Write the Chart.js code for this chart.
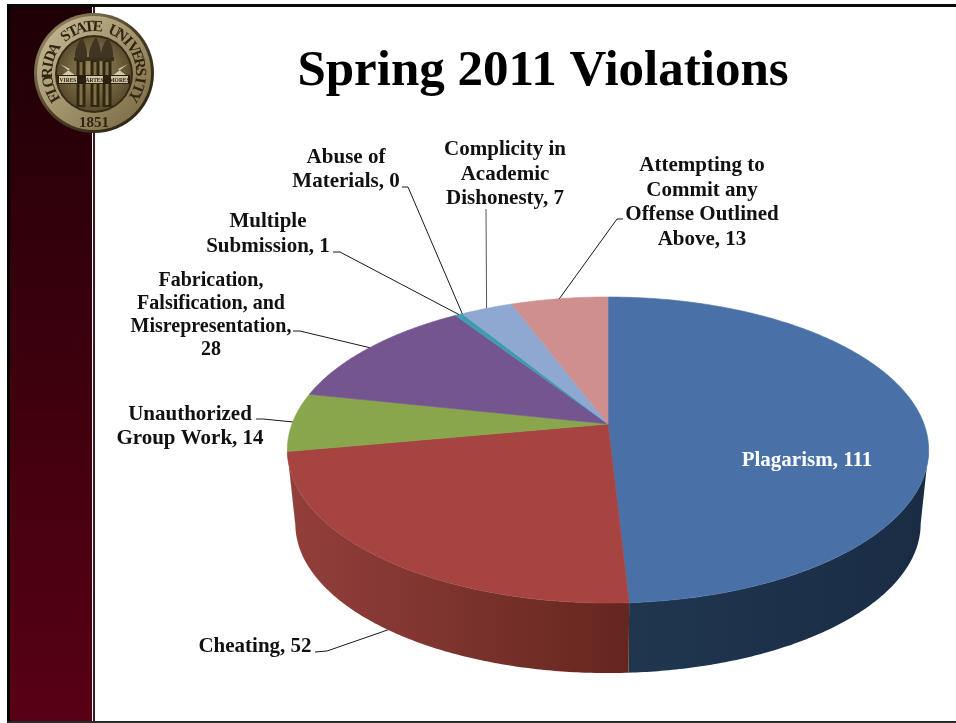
<!DOCTYPE html>
<html>
<head>
<meta charset="utf-8">
<title>Spring 2011 Violations</title>
<script src="https://cdn.jsdelivr.net/npm/chart.js@4"></script>
<style>
  html, body { margin: 0; padding: 0; background: #fff; }
  canvas { display: block; }
</style>
</head>
<body>
<canvas id="pie" width="956" height="723"></canvas>
<script>
var categories = ["Plagarism", "Cheating", "Unauthorized Group Work", "Fabrication, Falsification, and Misrepresentation", "Multiple Submission", "Abuse of Materials", "Complicity in Academic Dishonesty", "Attempting to Commit any Offense Outlined Above"];
var values = [111, 52, 14, 28, 1, 0, 7, 13];
var sliceColors = ["#4A71A7", "#A54441", "#8AA64D", "#745590", "#3E9BB0", "#3E9BB0", "#8FA8D2", "#CF8F8E"];

// # gets replaced with the value of the slice
var labelLines = [
    ["Plagarism, #"],
    ["Cheating, #"],
    ["Unauthorized", "Group Work, #"],
    ["Fabrication,", "Falsification, and", "Misrepresentation,", "#"],
    ["Multiple", "Submission, #"],
    ["Abuse of", "Materials, #"],
    ["Complicity in", "Academic", "Dishonesty, #"],
    ["Attempting to", "Commit any", "Offense Outlined", "Above, #"]
];
var titleText = "Spring 2011 Violations";

// center x and first baseline of each label, then the line gap and font size
var labelPos = [[807, 466, 0, 21], [255, 652, 0, 21], [190, 420, 24, 21], [211, 286, 23, 20], [268, 227, 25, 21], [346, 163, 24, 21], [505, 155, 24.5, 21], [702, 171, 24.7, 21]];
// leader line: points from the text to the elbow, null when the label sits on the slice
var leaderStart = [null, [[315, 652], [327, 651]], [[256, 419], [263, 419]], [[293, 331], [300, 331]], [[333, 252], [340, 252]], [[402, 187], [408, 187]], [[486, 209]], [[623, 219], [617, 219]]];

// the tilted disc, a perspective view of the unit circle
var CX = 608, CY = 424, RX = 316, RY = 148.6, PERSP = 0.17;
var DEPTH = 74.5, BOTTOM_SCALE = 0.975;

function project(angle, bottom) {
    var u = Math.cos(angle), v = Math.sin(angle);
    var w = 1 - PERSP * v;
    var s = bottom ? BOTTOM_SCALE : 1;
    return [CX + s * RX * u / w, CY + (bottom ? DEPTH : 0) + s * RY * v / w];
}

function tracePoints(ctx, a0, a1, bottom) {
    var steps = Math.max(1, Math.ceil(Math.abs(a1 - a0) / 0.01));
    for (var i = 0; i <= steps; i++) {
        var p = project(a0 + (a1 - a0) * i / steps, bottom);
        ctx.lineTo(p[0], p[1]);
    }
}

// [left, right] colours of the outer wall
var wallColors = [["#20364F", "#192C44"], ["#933F3C", "#65261F"], ["#6B7F3A", "#6B7F3A"]];

var pie3d = {
    id: "pie3d",
    beforeDatasetDraw: function (chart, args) {
        var ctx = chart.ctx;
        var arcs = args.meta.data;
        var front0 = Math.asin(PERSP), front1 = Math.PI - front0;

        // walls first, only the part that faces the viewer
        arcs.forEach(function (arc, i) {
            var a0 = Math.max(arc.startAngle, front0), a1 = Math.min(arc.endAngle, front1);
            if (a1 <= a0 || !wallColors[i]) return;
            var right = project(a0, false)[0], left = project(a1, false)[0];
            var grad = ctx.createLinearGradient(left, 0, right, 0);
            grad.addColorStop(0, wallColors[i][0]);
            grad.addColorStop(1, wallColors[i][1]);
            ctx.beginPath();
            tracePoints(ctx, a0, a1, false);
            tracePoints(ctx, a1, a0, true);
            ctx.closePath();
            ctx.fillStyle = grad;
            ctx.fill();
        });

        // top faces
        arcs.forEach(function (arc, i) {
            if (arc.endAngle <= arc.startAngle) return;
            ctx.beginPath();
            ctx.moveTo(CX, CY);
            tracePoints(ctx, arc.startAngle, arc.endAngle, false);
            ctx.closePath();
            ctx.fillStyle = sliceColors[i];
            ctx.strokeStyle = sliceColors[i];
            ctx.lineWidth = 0.6;
            ctx.fill();
            ctx.stroke();
        });
        return false;
    },
    afterDatasetsDraw: function (chart) {
        var ctx = chart.ctx;
        var arcs = chart.getDatasetMeta(0).data;

        arcs.forEach(function (arc, i) {
            var lines = leaderStart[i];
            if (lines) {
                // Cheating points at the wall, the others at the rim
                var end = project((arc.startAngle + arc.endAngle) / 2, i === 1);
                ctx.beginPath();
                ctx.moveTo(lines[0][0], lines[0][1]);
                for (var k = 1; k < lines.length; k++) ctx.lineTo(lines[k][0], lines[k][1]);
                ctx.lineTo(end[0], end[1]);
                ctx.strokeStyle = i === 6 ? "#555" : "#1a1a1a";
                ctx.lineWidth = 1;
                ctx.stroke();
            }
        });

        ctx.textAlign = "center";
        ctx.textBaseline = "alphabetic";
        labelLines.forEach(function (rows, i) {
            ctx.font = "bold " + labelPos[i][3] + "px 'Liberation Serif'";
            ctx.fillStyle = i === 0 ? "#fff" : "#111";
            rows.forEach(function (row, r) {
                ctx.fillText(row.replace("#", values[i]), labelPos[i][0], labelPos[i][1] + r * labelPos[i][2]);
            });
        });
    }
};

// maroon side band and frame lines
function drawFrame(ctx) {
    ctx.fillStyle = "#fff";
    ctx.fillRect(0, 0, 956, 723);
    var band = ctx.createLinearGradient(0, 6, 0, 721);
    band.addColorStop(0, "#1E0006");
    band.addColorStop(0.45, "#3A000C");
    band.addColorStop(1, "#580014");
    ctx.fillStyle = band;
    ctx.fillRect(9, 6, 83, 715);
    ctx.fillStyle = "#3A1A22";
    ctx.fillRect(93, 6, 2, 715);
    ctx.fillStyle = "#000";
    ctx.fillRect(7, 6, 3, 717);
    ctx.fillStyle = "#0a0a0a";
    ctx.fillRect(7, 4, 949, 3);
    ctx.fillStyle = "#2a2a2a";
    ctx.fillRect(7, 721, 949, 2);
}

function arcText(ctx, text, x, y, r, from, to) {
    var step = (to - from) / (text.length - 1);
    for (var i = 0; i < text.length; i++) {
        var a = from + step * i;
        ctx.save();
        ctx.translate(x + r * Math.sin(a), y - r * Math.cos(a));
        ctx.rotate(a);
        ctx.fillText(text[i], 0, 0);
        ctx.restore();
    }
}

function disc(ctx, x, y, r, fill) {
    ctx.beginPath();
    ctx.arc(x, y, r, 0, Math.PI * 2);
    ctx.fillStyle = fill;
    ctx.fill();
}

// university seal
function drawSeal(ctx) {
    var x = 94, y = 73;
    var rim = ctx.createLinearGradient(x - 45, y - 45, x + 45, y + 45);
    rim.addColorStop(0, "#8F8260");
    rim.addColorStop(0.5, "#4A3D25");
    rim.addColorStop(1, "#2E2616");
    disc(ctx, x, y, 60, rim);
    var ring = ctx.createLinearGradient(x - 40, y - 40, x + 40, y + 40);
    ring.addColorStop(0, "#BDB08B");
    ring.addColorStop(0.55, "#A0916A");
    ring.addColorStop(1, "#82734D");
    disc(ctx, x, y, 57, ring);
    disc(ctx, x, y + 1, 39, "#352A17");
    var inner = ctx.createRadialGradient(x, y - 6, 4, x, y, 37);
    inner.addColorStop(0, "#96875F");
    inner.addColorStop(1, "#5B4C2D");
    disc(ctx, x, y + 1, 37, inner);

    ctx.fillStyle = "#30260F";
    ctx.textAlign = "center";
    ctx.textBaseline = "alphabetic";
    ctx.font = "bold 15.5px 'Liberation Serif'";
    arcText(ctx, "FLORIDA STATE UNIVERSITY", x, y, 42, -2.12, 2.1);
    ctx.font = "bold 15px 'Liberation Serif'";
    ctx.fillText("1851", x, y + 54);

    // side wings
    [-1, 1].forEach(function (dir) {
        ctx.beginPath();
        ctx.moveTo(x + dir * 18, y + 3);
        ctx.lineTo(x + dir * 34, y - 9);
        ctx.lineTo(x + dir * 24, y - 4);
        ctx.lineTo(x + dir * 33, y + 3);
        ctx.closePath();
        ctx.fillStyle = "#D2C8A8";
        ctx.fill();
    });

    // torches
    [-13, 1, 13].forEach(function (dx) {
        ctx.fillStyle = "#30270F";
        ctx.fillRect(x + dx - 4.5, y - 13, 9, 47);
        ctx.fillStyle = "#7E6F49";
        ctx.fillRect(x + dx - 1.5, y - 11, 3, 43);
        ctx.fillStyle = "#3A2F1A";
        ctx.fillRect(x + dx - 7, y - 16, 14, 4);
        ctx.beginPath();
        ctx.moveTo(x + dx - 6, y - 15);
        ctx.quadraticCurveTo(x + dx - 7, y - 25, x + dx + 1, y - 36);
        ctx.quadraticCurveTo(x + dx + 7, y - 24, x + dx + 6, y - 15);
        ctx.closePath();
        ctx.fillStyle = "#3F3520";
        ctx.fill();
    });

    // ribbons with the three mottoes
    ctx.fillStyle = "#2A2110";
    ctx.fillRect(x - 37, y + 2, 73, 9);
    [[-35, 18, "VIRES"], [-8, 17, "ARTES"], [17, 17, "MORES"]].forEach(function (rb) {
        ctx.fillStyle = "#CFC5A5";
        ctx.fillRect(x + rb[0], y + 3, rb[1], 7);
        ctx.fillStyle = "#30260F";
        ctx.font = "bold 5.5px 'Liberation Serif'";
        ctx.fillText(rb[2], x + rb[0] + rb[1] / 2, y + 8.5);
    });
}

var backdrop = {
    id: "backdrop",
    beforeDraw: function (chart) {
        drawFrame(chart.ctx);
        drawSeal(chart.ctx);
    }
};

var chartPie = new Chart(document.getElementById("pie"), {
    type: "pie",
    data: {
        labels: categories,
        datasets: [{ data: values, backgroundColor: sliceColors }]
    },
    options: {
        responsive: false,
        animation: false,
        layout: { padding: { left: 130 } },
        plugins: {
            legend: { display: false },
            tooltip: { enabled: false },
            title: {
                display: true,
                text: titleText,
                fullSize: false,
                color: "#000",
                font: { family: "'Liberation Serif'", size: 51, weight: "bold" },
                padding: { top: 41, bottom: 0 }
            }
        }
    },
    plugins: [backdrop, pie3d]
});
</script>
</body>
</html>
